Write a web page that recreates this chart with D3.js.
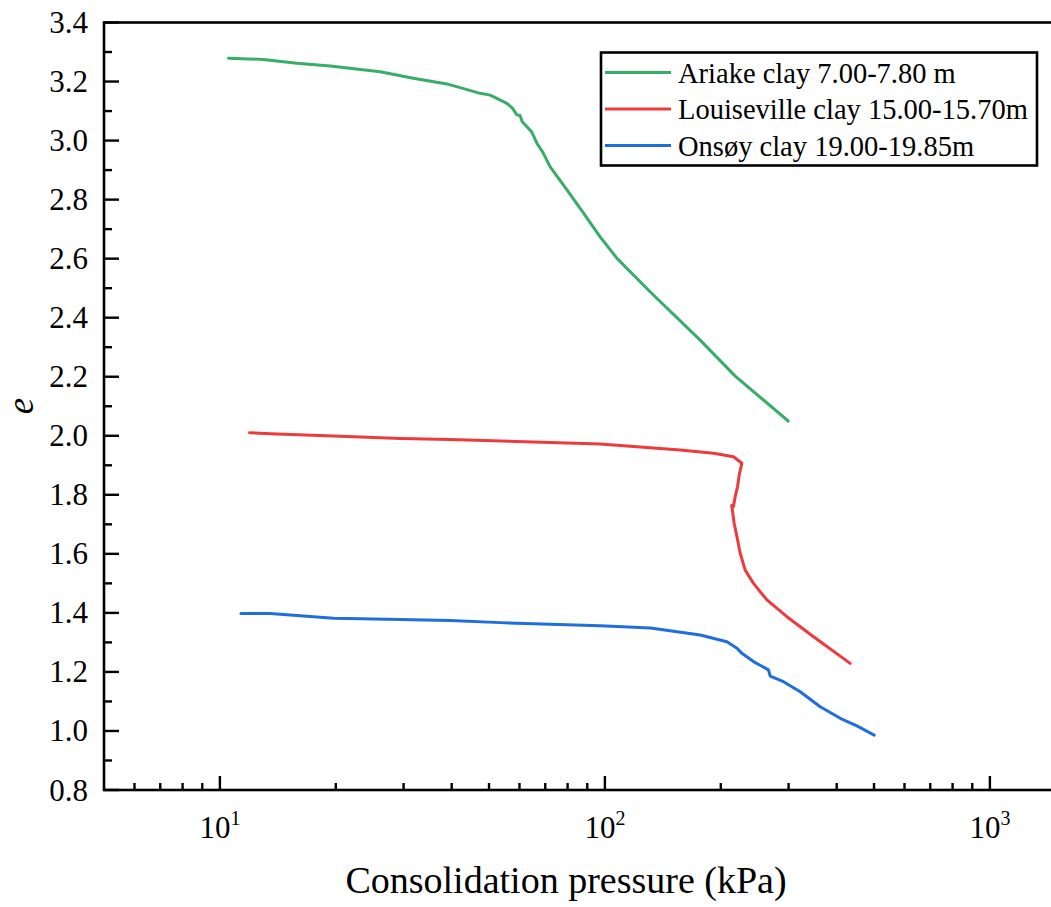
<!DOCTYPE html>
<html>
<head>
<meta charset="utf-8">
<script src="https://cdn.jsdelivr.net/npm/d3@7"></script>
<style>
  html, body { margin: 0; padding: 0; background: #fff; overflow: hidden; }
  svg { display: block; }
  text { font-family: "Liberation Serif", "Times New Roman", serif; fill: #000; }
</style>
</head>
<body>
<svg id="chart" width="1051" height="907"></svg>
<script>
// ---- data (pressure kPa, void ratio e) ----
const seriesNames = ["Ariake clay 7.00-7.80 m", "Louiseville clay 15.00-15.70m", "Onsøy clay 19.00-19.85m"];
const seriesColors = ["#37ad68", "#ee3a3c", "#1f6ede"];

const ariakeP = [10.53, 12.96, 15.85, 19.34, 26.09, 31.78, 38.87, 47.43, 50.36, 55.66, 57.5, 59.07, 60.2, 61.0, 62.72, 64.5, 66.59, 69.0, 72.1, 79.7, 88.0, 97.2, 107.5, 131.2, 176.8, 218.0, 299.3];
const ariakeE = [3.279, 3.275, 3.262, 3.253, 3.233, 3.211, 3.192, 3.160, 3.154, 3.126, 3.110, 3.087, 3.085, 3.064, 3.047, 3.030, 2.991, 2.960, 2.911, 2.833, 2.754, 2.674, 2.601, 2.487, 2.324, 2.202, 2.050];

const louisP = [11.94, 14.06, 19.73, 29.40, 39.64, 97.2, 156.9, 191.4, 215.8, 226.9, 223.7, 221.0, 218.0, 215.8, 213.5, 216.7, 220.3, 224.6, 231.4, 243.2, 263.5, 297.0, 348.3, 433.6];
const louisE = [2.010, 2.006, 1.999, 1.991, 1.987, 1.972, 1.952, 1.941, 1.929, 1.907, 1.873, 1.827, 1.794, 1.760, 1.764, 1.703, 1.658, 1.602, 1.545, 1.500, 1.444, 1.387, 1.319, 1.229];

const onsoyP = [11.34, 13.51, 19.73, 29.40, 39.64, 53.46, 97.2, 131.2, 176.8, 207.5, 220.3, 226.9, 243.2, 266.0, 268.8, 291.0, 321.6, 362.4, 408.6, 451.4, 500.6];
const onsoyE = [1.398, 1.398, 1.382, 1.378, 1.374, 1.367, 1.356, 1.349, 1.325, 1.302, 1.280, 1.263, 1.235, 1.207, 1.186, 1.167, 1.133, 1.082, 1.043, 1.017, 0.986];

const xMajorTicks = [10, 100, 1000];
const xMajorExp = ["1", "2", "3"];
const yTicks = [0.8, 1.0, 1.2, 1.4, 1.6, 1.8, 2.0, 2.2, 2.4, 2.6, 2.8, 3.0, 3.2, 3.4];

const xTitle = "Consolidation pressure (kPa)";
const yTitle = "e";

// ---- layout ----
const plotLeft = 104, plotTop = 22.5, plotBottom = 790;
const decade = 385;
const x = d3.scaleLog().domain([5, 2000])
  .range([plotLeft, plotLeft + decade * Math.log10(2000 / 5)]);
const y = d3.scaleLinear().domain([0.8, 3.4]).range([plotBottom, plotTop]);

const svg = d3.select("#chart");

const series = [
  { p: ariakeP, e: ariakeE },
  { p: louisP, e: louisE },
  { p: onsoyP, e: onsoyE }
];

const line = d3.line().x(d => x(d[0])).y(d => y(d[1]));

series.forEach((s, i) => {
  const pts = s.p.map((p, k) => [p, s.e[k]]);
  svg.append("path")
    .attr("d", line(pts))
    .attr("fill", "none")
    .attr("stroke", seriesColors[i])
    .attr("stroke-width", 3)
    .attr("stroke-linejoin", "round")
    .attr("stroke-linecap", "round");
});

// ---- frame ----
const xr = x.range();
svg.append("rect")
  .attr("x", xr[0]).attr("y", plotTop)
  .attr("width", xr[1] - xr[0]).attr("height", plotBottom - plotTop)
  .attr("fill", "none").attr("stroke", "#000").attr("stroke-width", 2.6);

// ---- x ticks (inward) ----
const xMinor = [];
[1, 10, 100, 1000].forEach(b => {
  for (let m = 2; m <= 9; m++) {
    const v = b * m;
    if (v > 5 && v < 2000 && !xMajorTicks.includes(v)) xMinor.push(v);
  }
});
const gx = svg.append("g");
gx.selectAll("line.maj").data(xMajorTicks).enter().append("line")
  .attr("x1", d => x(d)).attr("x2", d => x(d))
  .attr("y1", plotBottom).attr("y2", plotBottom - 14)
  .attr("stroke", "#000").attr("stroke-width", 2.4);
gx.selectAll("line.min").data(xMinor).enter().append("line")
  .attr("x1", d => x(d)).attr("x2", d => x(d))
  .attr("y1", plotBottom).attr("y2", plotBottom - 7)
  .attr("stroke", "#000").attr("stroke-width", 2.4);
const xl = gx.selectAll("text").data(xMajorTicks).enter().append("text")
  .attr("x", d => x(d)).attr("y", 838)
  .attr("text-anchor", "middle")
  .style("font-size", "31px");
xl.append("tspan").text("10");
xl.append("tspan").attr("dy", -13).style("font-size", "20px").text((d, i) => xMajorExp[i]);

// ---- y ticks (inward) ----
const yMinor = d3.range(0.9, 3.4, 0.2);
const gy = svg.append("g");
gy.selectAll("line.maj").data(yTicks).enter().append("line")
  .attr("x1", plotLeft).attr("x2", plotLeft + 15)
  .attr("y1", d => y(d)).attr("y2", d => y(d))
  .attr("stroke", "#000").attr("stroke-width", 2.4);
gy.selectAll("line.min").data(yMinor).enter().append("line")
  .attr("x1", plotLeft).attr("x2", plotLeft + 8)
  .attr("y1", d => y(d)).attr("y2", d => y(d))
  .attr("stroke", "#000").attr("stroke-width", 2.4);
gy.selectAll("text").data(yTicks).enter().append("text")
  .attr("x", 88).attr("y", d => y(d) + 10.5)
  .attr("text-anchor", "end")
  .style("font-size", "31px")
  .text(d => d.toFixed(1));

// ---- axis titles ----
svg.append("text")
  .attr("x", 566).attr("y", 893)
  .attr("text-anchor", "middle")
  .style("font-size", "38px")
  .text(xTitle);
svg.append("text")
  .attr("transform", "translate(33,406) rotate(-90)")
  .attr("text-anchor", "middle")
  .style("font-size", "37px")
  .style("font-style", "italic")
  .text(yTitle);

// ---- legend ----
const lg = svg.append("g");
lg.append("rect")
  .attr("x", 601).attr("y", 52.5).attr("width", 436).attr("height", 113)
  .attr("fill", "#fff").attr("stroke", "#000").attr("stroke-width", 2.6);
const legendY = [72.5, 109, 145.5];
seriesNames.forEach((n, i) => {
  lg.append("line")
    .attr("x1", 605).attr("x2", 671)
    .attr("y1", legendY[i]).attr("y2", legendY[i])
    .attr("stroke", seriesColors[i]).attr("stroke-width", 3);
  lg.append("text")
    .attr("x", 678).attr("y", legendY[i] + 10)
    .style("font-size", "28.5px")
    .text(n);
});
</script>
</body>
</html>
